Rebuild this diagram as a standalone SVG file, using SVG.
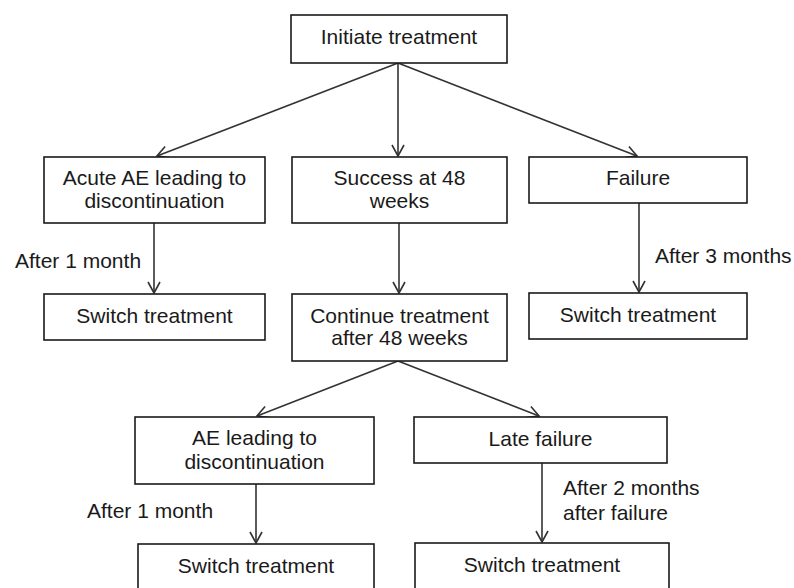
<svg xmlns="http://www.w3.org/2000/svg" width="794" height="588" viewBox="0 0 794 588">
<style>
.box{fill:#fff;stroke:#1a1a1a;stroke-width:1.6}
.t{font-family:"Liberation Sans",Arial,sans-serif;font-size:21px;fill:#1a1a1a}
.c{text-anchor:middle}
.e{stroke:#333;stroke-width:1.6;fill:none;marker-end:url(#ah)}
</style>
<defs>
<marker id="ah" markerUnits="userSpaceOnUse" markerWidth="14" markerHeight="14" refX="12" refY="7" orient="auto" viewBox="0 0 14 14">
<path d="M1,1 L12,7 L1,13" fill="none" stroke="#333" stroke-width="1.6"/>
</marker>
</defs>
<rect width="794" height="588" fill="#fff"/>
<g id="edges">
<line class="e" x1="398" y1="63" x2="398" y2="156"/>
<line class="e" x1="398" y1="63" x2="157" y2="156"/>
<line class="e" x1="398" y1="63" x2="637" y2="156"/>
<line class="e" x1="154" y1="223" x2="154" y2="293"/>
<line class="e" x1="399" y1="223" x2="399" y2="293"/>
<line class="e" x1="639" y1="203" x2="639" y2="292"/>
<line class="e" x1="398" y1="361" x2="257" y2="416"/>
<line class="e" x1="398" y1="361" x2="539" y2="416"/>
<line class="e" x1="256" y1="484" x2="256" y2="543"/>
<line class="e" x1="542" y1="463" x2="542" y2="542"/>
<text class="t" x="15" y="268">After 1 month</text>
<text class="t" x="655" y="263">After 3 months</text>
<text class="t" x="87" y="518">After 1 month</text>
<text class="t" x="563" y="495">After 2 months</text>
<text class="t" x="563" y="520">after failure</text>
</g>
<g id="initiate"><rect class="box" x="291" y="15" width="216" height="48"/><text class="t c" x="399" y="44">Initiate treatment</text></g>
<g id="acute"><rect class="box" x="44" y="157" width="221" height="66"/><text class="t c" x="154.5" y="185">Acute AE leading to</text><text class="t c" x="154.5" y="208">discontinuation</text></g>
<g id="success"><rect class="box" x="292" y="157" width="215" height="66"/><text class="t c" x="399.5" y="185">Success at 48</text><text class="t c" x="399.5" y="208">weeks</text></g>
<g id="failure"><rect class="box" x="529" y="157" width="218" height="46"/><text class="t c" x="638" y="185">Failure</text></g>
<g id="switch1"><rect class="box" x="44" y="294" width="221" height="46"/><text class="t c" x="154.5" y="323">Switch treatment</text></g>
<g id="continue"><rect class="box" x="292" y="294" width="215" height="67"/><text class="t c" x="399.5" y="323">Continue treatment</text><text class="t c" x="399.5" y="345">after 48 weeks</text></g>
<g id="switch2"><rect class="box" x="529" y="293" width="218" height="46"/><text class="t c" x="638" y="322">Switch treatment</text></g>
<g id="ae"><rect class="box" x="135" y="417" width="239" height="67"/><text class="t c" x="254.5" y="445">AE leading to</text><text class="t c" x="254.5" y="469">discontinuation</text></g>
<g id="late"><rect class="box" x="414" y="417" width="253" height="46"/><text class="t c" x="540.5" y="446">Late failure</text></g>
<g id="switch3"><rect class="box" x="138" y="544" width="236" height="50"/><text class="t c" x="256" y="573">Switch treatment</text></g>
<g id="switch4"><rect class="box" x="415" y="543" width="254" height="50"/><text class="t c" x="542" y="572">Switch treatment</text></g>
</svg>
